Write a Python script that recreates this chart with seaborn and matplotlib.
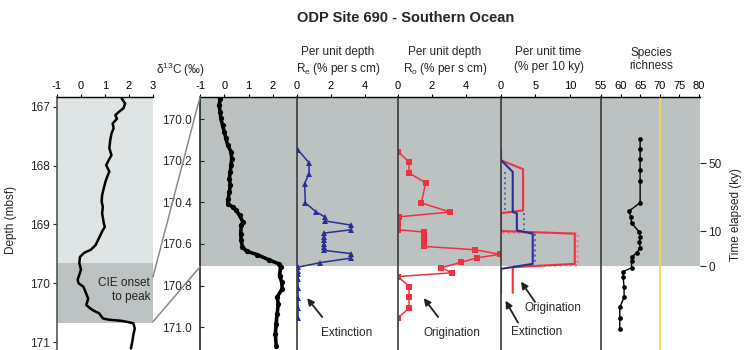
import numpy as np
import pandas as pd
import matplotlib
matplotlib.use('Agg')
import matplotlib.pyplot as plt
import seaborn as sns
from matplotlib.patches import ConnectionPatch

sns.set_theme(style='ticks')
plt.rcParams['font.family'] = ['Liberation Sans', 'DejaVu Sans']
plt.rcParams['axes.unicode_minus'] = False

# ---------------- data ----------------
# long record (left panel)
left_depth = [166.86, 166.94, 167.02, 167.09, 167.14, 167.20, 167.28, 167.36, 167.45, 167.56,
              167.70, 167.82, 167.90, 167.99, 168.10, 168.19, 168.27, 168.38, 168.50, 168.61,
              168.70, 168.81, 168.98, 169.04, 169.12, 169.23, 169.35, 169.43, 169.48, 169.55,
              169.66, 169.77, 169.94, 170.00, 170.06, 170.14, 170.26, 170.37, 170.42, 170.46,
              170.51, 170.60, 170.62, 170.64, 170.68, 170.77, 170.88, 170.99, 171.11]
left_d13c = [1.70, 1.84, 1.77, 1.56, 1.43, 1.50, 1.32, 1.36, 1.27, 1.22,
             1.18, 1.27, 1.16, 1.05, 1.18, 1.09, 1.02, 0.95, 0.88, 0.86,
             0.91, 0.88, 0.95, 0.99, 0.88, 0.75, 0.61, 0.41, 0.14, -0.04,
             -0.07, 0.00, -0.14, -0.10, 0.10, 0.18, 0.30, 0.22, 0.36, 0.50,
             0.75, 0.92, 1.16, 1.70, 2.18, 2.24, 2.18, 2.14, 2.08]

# detailed record (d13C panel)
det_depth = [169.904, 169.933, 169.965, 169.997, 170.029, 170.061, 170.093, 170.125, 170.158, 170.190,
             170.222, 170.254, 170.286, 170.318, 170.350, 170.382, 170.406, 170.423, 170.439, 170.463,
             170.495, 170.511, 170.551, 170.583, 170.615, 170.635, 170.651, 170.676, 170.696, 170.712,
             170.752, 170.784, 170.816, 170.856, 170.888, 170.936, 170.984, 171.033, 171.089]
det_d13c = [-0.17, -0.21, -0.17, -0.14, -0.07, 0.00, 0.07, 0.14, 0.28, 0.31,
            0.28, 0.25, 0.21, 0.25, 0.21, 0.17, 0.14, 0.35, 0.49, 0.63,
            0.77, 0.70, 0.68, 0.70, 0.75, 0.92, 1.34, 1.83, 2.25, 2.32,
            2.28, 2.37, 2.39, 2.18, 2.23, 2.18, 2.14, 2.11, 2.14]

# extinction per unit depth (Re)
re_depth = [170.149, 170.210, 170.262, 170.310, 170.403, 170.447, 170.470, 170.490, 170.510, 170.532,
            170.548, 170.567, 170.583, 170.599, 170.615, 170.631, 170.647, 170.668, 170.690, 170.712,
            170.728, 170.744, 170.768, 170.812, 170.860, 170.908, 170.958]
re_rate = [0.06, 0.71, 0.71, 0.45, 0.49, 1.14, 1.63, 1.67, 3.20, 3.20,
           1.59, 1.59, 1.59, 1.59, 1.59, 1.59, 3.20, 3.20, 1.37, 0.06,
           0.06, 0.06, 0.06, 0.06, 0.06, 0.06, 0.06]

# origination per unit depth (Ro)
ro_depth = [170.157, 170.206, 170.259, 170.307, 170.403, 170.447, 170.470, 170.487, 170.511, 170.532,
            170.543, 170.567, 170.591, 170.612, 170.628, 170.650, 170.667, 170.688, 170.715, 170.739,
            170.757, 170.805, 170.856, 170.908, 170.956]
ro_rate = [0.00, 0.65, 0.65, 1.63, 1.37, 3.06, 0.04, 0.00, 0.00, 0.00,
           1.51, 1.51, 1.51, 1.51, 4.51, 6.00, 4.65, 3.73, 2.55, 3.16,
           0.00, 0.65, 0.65, 0.65, 0.00]

# per unit time (steps)
tb_depth = [170.149, 170.197, 170.254, 170.447, 170.453, 170.535, 170.551, 170.696, 170.720, 170.840]
tb_rate = [0.0, 0.0, 1.7, 1.7, 2.3, 2.3, 4.6, 4.6, 0.0, 0.0]
tr_depth = [170.198, 170.241, 170.439, 170.452, 170.538, 170.551, 170.696, 170.712, 170.835]
tr_rate = [0.0, 3.2, 3.2, 0.0, 0.0, 10.7, 10.7, 1.7, 1.7]
tbd_seg = [1, 1, 2, 2, 3, 3]
tbd_depth = [170.254, 170.440, 170.452, 170.535, 170.551, 170.696]
tbd_rate = [0.6, 0.6, 3.3, 3.3, 4.9, 4.9]
trd_depth = [170.547, 170.547, 170.703, 170.707]
trd_rate = [0.2, 11.1, 11.1, 1.8]

# species richness
sp_depth = [170.096, 170.146, 170.194, 170.246, 170.297, 170.402, 170.443, 170.471, 170.500, 170.543,
            170.567, 170.591, 170.618, 170.644, 170.663, 170.683, 170.715, 170.733, 170.760, 170.808,
            170.856, 170.905, 170.956, 171.009]
sp_rich = [65.0, 65.0, 65.0, 65.0, 65.0, 65.0, 62.1, 62.65, 62.8, 64.8,
           65.0, 64.8, 65.0, 64.1, 62.8, 62.8, 62.8, 60.65, 60.65, 60.9,
           60.9, 59.8, 59.8, 59.8]

time_tick_labels = ['0', '10', '50']
time_tick_depth = [170.708, 170.540, 170.212]

# ---------------- layout ----------------
W, H = 749, 350
fig = plt.figure(figsize=(W / 100, H / 100), dpi=100)


def add_ax(x0, x1, y0, y1):
    return fig.add_axes([x0 / W, 1 - y1 / H, (x1 - x0) / W, (y1 - y0) / H])


def ftext(x, y, s, **kw):
    fig.text(x / W, 1 - y / H, s, ha=kw.pop('ha', 'center'), va=kw.pop('va', 'center'), **kw)


GRAY = '#bcc1c1'
LIGHT = '#dfe4e4'
DARK = '#bdc2c2'
SPINE = '#3a3a3a'
BLUE = '#2a2f96'
RED = '#ee3340'
RIGHT_YLIM = (171.11, 169.894)
GRAY_BOTTOM = 170.708
ARROW = dict(arrowstyle='-|>', color='#222222', lw=1.3, mutation_scale=10, shrinkA=0, shrinkB=0)


def style(ax, xlim, xticks, ylim, left_color=SPINE):
    ax.set_xlim(*xlim)
    ax.set_ylim(*ylim)
    ax.set_facecolor('none')
    ax.set_xlabel('')
    ax.set_ylabel('')
    ax.xaxis.tick_top()
    ax.set_xticks(xticks)
    ax.tick_params(axis='x', direction='out', length=2.5, width=0.8, pad=1.5,
                   labelsize=8, top=True, bottom=False, labeltop=True, labelbottom=False, colors='black')
    ax.set_yticks([])
    for s in ['right', 'bottom']:
        ax.spines[s].set_visible(False)
    ax.spines['top'].set_color('black')
    ax.spines['top'].set_linewidth(1.0)
    ax.spines['left'].set_color(left_color)
    ax.spines['left'].set_linewidth(1.2)
    if ax.get_legend():
        ax.get_legend().remove()


# left overview panel
axL = add_ax(57, 153, 97, 350)
axL.axhspan(166.0, 169.66, color=LIGHT, zorder=0, lw=0)
axL.axhspan(169.66, 170.68, color=DARK, zorder=0, lw=0)
sns.lineplot(x=left_d13c, y=left_depth, sort=False, orient='y', estimator=None,
             color='black', lw=1.8, ax=axL)
style(axL, (-1, 3), [-1, 0, 1, 2, 3], (171.136, 166.83), left_color='#555555')
axL.set_yticks([167, 168, 169, 170, 171])
axL.tick_params(axis='y', direction='out', length=3, width=0.8, pad=2, labelsize=8.5, left=True)
axL.set_ylabel('Depth (mbsf)', fontsize=8.5)
axL.yaxis.set_label_coords(-0.415, 0.514)
axL.text(0.97, 0.237, 'CIE onset\nto peak', transform=axL.transAxes, ha='right', va='center',
         fontsize=8.5, linespacing=1.15, color='#222222')

# d13C detail panel
axD = add_ax(200, 297, 97, 350)
axD.axhspan(169.0, GRAY_BOTTOM, color=GRAY, zorder=0, lw=0)
sns.lineplot(x=det_d13c, y=det_depth, sort=False, orient='y', estimator=None,
             color='black', lw=2.6, marker='o', markersize=3.8, markeredgewidth=0, ax=axD)
style(axD, (-1, 3), [-1, 0, 1, 2], RIGHT_YLIM, left_color='#222222')
axD.set_yticks([170.0, 170.2, 170.4, 170.6, 170.8, 171.0])
axD.set_yticklabels(['170.0', '170.2', '170.4', '170.6', '170.8', '171.0'])
axD.tick_params(axis='y', direction='in', length=3, width=0.8, pad=6, labelsize=8.5, left=True)

# Re panel
axE = add_ax(297, 398, 97, 350)
axE.axhspan(169.0, GRAY_BOTTOM, color=GRAY, zorder=0, lw=0)
sns.lineplot(x=re_rate, y=re_depth, sort=False, orient='y', estimator=None,
             color=BLUE, lw=1.1, marker='^', markersize=4.6, markeredgewidth=0, ax=axE)
style(axE, (0, 5.94), [0, 2, 4], RIGHT_YLIM)
axE.text(0.495, 0.067, 'Extinction', transform=axE.transAxes, ha='center', va='center', fontsize=8.5)
axE.annotate('', xy=(0.10, 0.205), xytext=(0.25, 0.13), xycoords='axes fraction', arrowprops=ARROW)

# Ro panel
axO = add_ax(398, 501, 97, 350)
axO.axhspan(169.0, GRAY_BOTTOM, color=GRAY, zorder=0, lw=0)
sns.lineplot(x=ro_rate, y=ro_depth, sort=False, orient='y', estimator=None,
             color=RED, lw=1.1, marker='s', markersize=3.8, markeredgewidth=0, ax=axO)
style(axO, (0, 6.06), [0, 2, 4], RIGHT_YLIM)
axO.text(0.524, 0.067, 'Origination', transform=axO.transAxes, ha='center', va='center', fontsize=8.5)
axO.annotate('', xy=(0.25, 0.205), xytext=(0.39, 0.13), xycoords='axes fraction', arrowprops=ARROW)

# per unit time panel
axT = add_ax(501, 601, 97, 350)
axT.axhspan(169.0, GRAY_BOTTOM, color=GRAY, zorder=0, lw=0)
dfbd = pd.DataFrame({'rate': tbd_rate, 'depth': tbd_depth, 'seg': tbd_seg})
sns.lineplot(data=dfbd, x='rate', y='depth', units='seg', sort=False, orient='y', estimator=None,
             color='#5a5fc0', lw=1.4, linestyle=':', ax=axT)
sns.lineplot(x=trd_rate, y=trd_depth, sort=False, orient='y', estimator=None,
             color='#f47078', lw=1.4, linestyle=':', ax=axT)
sns.lineplot(x=tr_rate, y=tr_depth, sort=False, orient='y', estimator=None,
             color=RED, lw=1.5, ax=axT)
sns.lineplot(x=tb_rate, y=tb_depth, sort=False, orient='y', estimator=None,
             color=BLUE, lw=1.5, ax=axT)
style(axT, (0, 14.5), [0, 5, 10], RIGHT_YLIM)
axT.text(0.52, 0.166, 'Origination', transform=axT.transAxes, ha='center', va='center', fontsize=8.5)
axT.annotate('', xy=(0.20, 0.27), xytext=(0.34, 0.19), xycoords='axes fraction', arrowprops=ARROW)
axT.text(0.36, 0.071, 'Extinction', transform=axT.transAxes, ha='center', va='center', fontsize=8.5)
axT.annotate('', xy=(0.045, 0.195), xytext=(0.17, 0.108), xycoords='axes fraction', arrowprops=ARROW)

# species richness panel
axS = add_ax(601, 700, 97, 350)
axS.axhspan(169.0, GRAY_BOTTOM, color=GRAY, zorder=0, lw=0)
axS.axvline(70, color='#f2de4a', lw=1.3, zorder=1)
sns.lineplot(x=sp_rich, y=sp_depth, sort=False, orient='y', estimator=None,
             color='black', lw=1.0, marker='o', markersize=3.4, markeredgewidth=0, ax=axS)
style(axS, (55, 80.3), [55, 60, 65, 70, 75, 80], RIGHT_YLIM)
axS2 = axS.twinx()
axS2.set_ylim(*RIGHT_YLIM)
axS2.set_yticks(time_tick_depth)
axS2.set_yticklabels(time_tick_labels)
axS2.tick_params(axis='y', direction='out', length=4, width=0.8, pad=2, labelsize=8.5, right=True)
for s in axS2.spines.values():
    s.set_visible(False)
axS2.set_ylabel('Time elapsed (ky)', fontsize=8.5)
axS2.yaxis.set_label_coords(1.30, 0.535)

# zoom connectors
for dl, dr in zip([169.89, 170.655], [169.894, 170.71]):
    con = ConnectionPatch(xyA=(3, dl), coordsA=axL.transData, xyB=(-1, dr), coordsB=axD.transData,
                          color='#8a8a8a', lw=1.1)
    fig.add_artist(con)

# headers
ftext(406, 18, 'ODP Site 690 - Southern Ocean', fontsize=10.5, fontweight='bold')
ftext(180, 70, r'δ$^{\mathregular{13}}$C (‰)', fontsize=8.5)
ftext(338, 52, 'Per unit depth', fontsize=8.5)
ftext(338, 69, r'R$_{\mathregular{e}}$ (% per s cm)', fontsize=8.5)
ftext(445, 52, 'Per unit depth', fontsize=8.5)
ftext(445, 69, r'R$_{\mathregular{o}}$ (% per s cm)', fontsize=8.5)
ftext(548, 52, 'Per unit time', fontsize=8.5)
ftext(549, 67, '(% per 10 ky)', fontsize=8.5)
ftext(651, 53, 'Species', fontsize=8.5)
ftext(651, 66, 'richness', fontsize=8.5)

fig.savefig('out.png', dpi=100)
